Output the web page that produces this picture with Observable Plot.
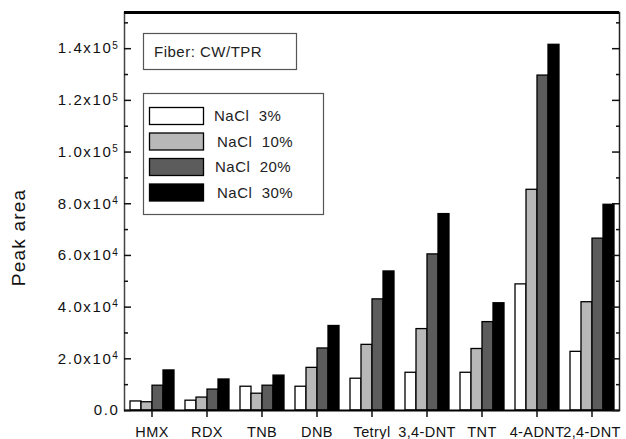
<!DOCTYPE html>
<html><head><meta charset="utf-8">
<script src="https://cdn.jsdelivr.net/npm/d3@7"></script>
<script src="https://cdn.jsdelivr.net/npm/@observablehq/plot@0.6"></script>
<style>body{margin:0;background:#fff} #chart{width:626px;height:439px}</style>
</head><body><div id="chart"></div>
<script>
const compounds = ["HMX","RDX","TNB","DNB","Tetryl","3,4-DNT","TNT","4-ADNT","2,4-DNT"];
const seriesKeys = ["3%","10%","20%","30%"];
const seriesLabels = ["NaCl  3%","NaCl  10%","NaCl  20%","NaCl  30%"];
const seriesColors = ["#ffffff","#b8b8b8","#5c5c5c","#000000"];
const nacl3  = [3500, 3800, 9200, 9200, 12300, 14600, 14600, 48800, 22700];
const nacl10 = [3200, 5000, 6500, 16500, 25400, 31500, 23800, 85400, 41900];
const nacl20 = [9600, 8100, 9600, 24000, 43000, 60400, 34200, 129600, 66500];
const nacl30 = [15500, 12000, 13500, 32700, 53800, 76000, 41500, 141500, 79600];
const yMajorTicks = [0, 20000, 40000, 60000, 80000, 100000, 120000, 140000];
const yMinorTicks = [10000, 30000, 50000, 70000, 90000, 110000, 130000, 150000];
const yMax = 154000;
const yLabel = "Peak area";
const boxLabel = "Fiber: CW/TPR";

const seriesValues = [nacl3, nacl10, nacl20, nacl30];
const data = compounds.flatMap((c, i) => seriesKeys.map((s, j) => ({compound: c, series: s, value: seriesValues[j][i]})));

function fmt(v) {
  if (v === 0) return "0.0";
  const e = Math.floor(Math.log10(v) + 1e-9);
  const m = v / Math.pow(10, e);
  return m.toFixed(1) + "x10|" + e;
}

const font = "'Liberation Sans', Arial, Helvetica, sans-serif";
const chart = Plot.plot({
  width: 626, height: 439,
  marginLeft: 124, marginRight: 7, marginTop: 12, marginBottom: 29,
  style: {fontFamily: font, fontSize: "14px", color: "#111", background: "#fff"},
  fx: {domain: compounds, padding: 0, label: null},
  x: {domain: seriesKeys, paddingInner: 0, paddingOuter: 0.5, axis: null},
  y: {domain: [0, yMax]},
  color: {domain: seriesKeys, range: seriesColors},
  marks: [
    Plot.barY(data, {fx: "compound", x: "series", y: "value", fill: "series", stroke: "#000", strokeWidth: 1.3}),
    Plot.frame({facet: "super", anchor: "left", stroke: "#444", strokeWidth: 1.5}),
    Plot.frame({facet: "super", anchor: "right", stroke: "#222", strokeWidth: 1.5}),
    Plot.ruleY([yMax], {stroke: "#000", strokeWidth: 3}),
    Plot.ruleY([0], {stroke: "#000", strokeWidth: 2}),
    Plot.axisY(yMajorTicks, {anchor: "left", tickSize: -7, tickPadding: 12, tickFormat: fmt, label: null, fontSize: 15, strokeWidth: 1.5}),
    Plot.axisY(yMinorTicks, {anchor: "left", tickSize: -4, tickFormat: () => "", label: null, strokeWidth: 1.5}),
    Plot.axisY(yMajorTicks, {anchor: "right", tickSize: -8, tickFormat: () => "", label: null, strokeWidth: 1.5}),
    Plot.axisY(yMinorTicks, {anchor: "right", tickSize: -4, tickFormat: () => "", label: null, strokeWidth: 1.5}),
    Plot.axisFx({anchor: "bottom", tickSize: 7, tickPadding: 9, label: null, fontSize: 14.5, strokeWidth: 1.5}),
    Plot.text([yLabel], {facet: "super", frameAnchor: "left", dx: -106, dy: 26, rotate: -90, fontSize: 19, textAnchor: "middle", lineAnchor: "middle"})
  ]
});
document.getElementById("chart").appendChild(chart);

const svg = d3.select(chart);
// superscript exponents in y tick labels
svg.selectAll("text").each(function() {
  const t = this.textContent;
  const sel = d3.select(this);
  if (t.includes("|")) {
    const [a, b] = t.split("|");
    sel.text(null).attr("letter-spacing", "1.6px");
    sel.append("tspan").text(a);
    sel.append("tspan").attr("dy", "-0.45em").attr("font-size", "10px").text(b);
  } else if (t === "0.0") {
    sel.attr("letter-spacing", "1.6px");
  } else if (t === yLabel) {
    sel.attr("letter-spacing", "1.2px");
  } else if (compounds.includes(t)) {
    sel.attr("letter-spacing", "0.4px");
  }
});

// annotation box and legend
const g = svg.append("g").attr("font-family", font).attr("fill", "#222").attr("text-anchor", "start");
g.append("rect").attr("x", 143.5).attr("y", 33.5).attr("width", 153).attr("height", 36)
  .attr("fill", "#fff").attr("stroke", "#555").attr("stroke-width", 1.2);
g.append("text").attr("x", 154).attr("y", 57).attr("font-size", 15).attr("letter-spacing", "0.5px").text(boxLabel);
g.append("rect").attr("x", 143.5).attr("y", 93.5).attr("width", 180).attr("height", 121)
  .attr("fill", "#fff").attr("stroke", "#555").attr("stroke-width", 1.2);
seriesLabels.forEach((lab, i) => {
  const y0 = 107 + i * 25.5;
  g.append("rect").attr("x", 149.5).attr("y", y0 + 0.5).attr("width", 54).attr("height", 17)
    .attr("fill", seriesColors[i]).attr("stroke", "#000").attr("stroke-width", 1.3);
  g.append("text").attr("x", 214 + (i === 0 ? 0 : i === 2 ? 1 : 3)).attr("y", y0 + 14)
    .attr("font-size", 15).attr("letter-spacing", "0.5px").style("white-space", "pre").text(lab);
});
</script>
</body></html>
